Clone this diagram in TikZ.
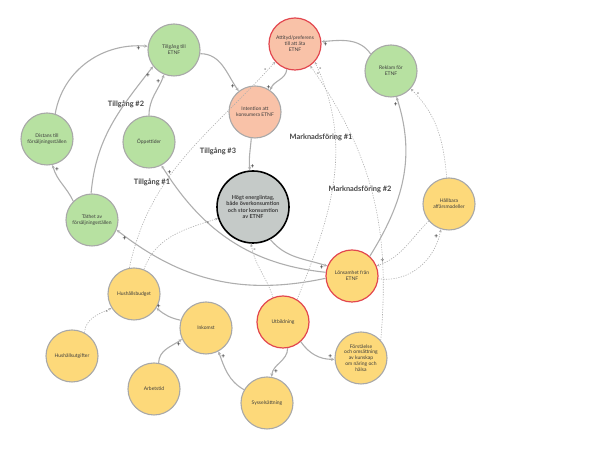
\documentclass[tikz,border=0pt]{standalone}
\usepackage{fontspec}
\setmainfont{Lato}
\usetikzlibrary{arrows.meta}
\definecolor{gfill}{HTML}{B7E1A1}
\definecolor{sfill}{HTML}{F9C2A8}
\definecolor{yfill}{HTML}{FDD97A}
\definecolor{hfill}{HTML}{C5CAC8}
\definecolor{bord}{HTML}{A8A8A8}
\definecolor{redborder}{HTML}{E2474F}
\definecolor{lcol}{HTML}{AEAEAE}
\definecolor{txt}{HTML}{3C3C3C}
\definecolor{ltxt}{HTML}{444444}
\begin{document}
\begin{tikzpicture}[x=1pt,y=1pt,
  base/.style={circle, minimum size=52pt, inner sep=0pt, align=center, font=\fontsize{5}{5.9}\selectfont, text=txt, line width=1.1pt, draw=bord},
  grn/.style={base, fill=gfill},
  sal/.style={base, fill=sfill},
  yel/.style={base, fill=yfill},
  redrim/.style={draw=redborder, line width=1.2pt},
  lnk/.style={draw=lcol, line width=1.1pt, -{Stealth[length=3.4pt,width=3.2pt]}},
  dlnk/.style={draw=lcol, line width=0.6pt, dash pattern=on 1.2pt off 1.3pt, -{Stealth[length=3pt,width=2.8pt]}},
  sgn/.style={font=\fontsize{6.5}{6.5}\selectfont\bfseries, text=txt, inner sep=0.6pt},
  lbl/.style={font=\fontsize{7.4}{8}\selectfont\bfseries, text=ltxt},
]
\path[use as bounding box] (0,0) rectangle (606,452);

% nodes
\node[grn] (till) at (174,{452-50}) {Tillgång till\\ETNF};
\node[sal, redrim] (att) at (295,{452-44}) {Attityd/preferens\\till att äta\\ETNF};
\node[grn] (rek) at (391,{452-71}) {Reklam för\\ETNF};
\node[sal] (int) at (255,{452-112}) {Intention att\\konsumera ETNF};
\node[grn] (dist) at (47,{452-139}) {Distans till\\försäljningsställen};
\node[grn] (opp) at (149,{452-142}) {Öppettider};
\node[grn] (tath) at (92,{452-220}) {Täthet av\\försäljningsställen};
\node[base, fill=hfill, draw=black, line width=1.6pt, minimum size=72pt, font=\fontsize{5.5}{6.4}\selectfont\bfseries] (hogt) at (253,{452-207}) {Högt energiintag,\\både överkonsumtion\\och stor konsumtion\\av ETNF};
\node[yel, redrim] (lon) at (352,{452-276}) {Lönsamhet från\\ETNF};
\node[yel] (hall) at (449,{452-204}) {Hållbara\\affärsmodeller};
\node[yel] (hbud) at (134,{452-294}) {Hushållsbudget};
\node[yel] (hutg) at (72,{452-356}) {Hushållsutgifter};
\node[yel] (arb) at (154,{452-389}) {Arbetstid};
\node[yel] (ink) at (206,{452-328}) {Inkomst};
\node[yel, redrim] (utb) at (283,{452-322}) {Utbildning};
\node[yel] (syss) at (267,{452-403}) {Sysselsättning};
\node[yel] (fors) at (361,{452-358}) {Förståelse\\och omsättning\\av kunskap\\om näring och\\hälsa};

% labels
\node[lbl] (l2) at (126,{452-104}) {Tillgång \#2};
\node[lbl] (l1) at (152,{452-182}) {Tillgång \#1};
\node[lbl] (l3) at (218,{452-151}) {Tillgång \#3};
\node[lbl] (m1) at (321,{452-137}) {Marknadsföring \#1};
\node[lbl] (m2) at (360,{452-189}) {Marknadsföring \#2};

% solid links
\draw[lnk] (dist.72) to[out=80,in=175] node[sgn,pos=0.93,below]{+} (till.172);
\draw[lnk] (tath.135) to[out=115,in=-75] node[sgn,pos=0.9,right]{+} (dist.-78);
\draw[lnk] (tath.92) to[out=85,in=232] node[sgn,pos=0.95,below]{+} (till.218);
\draw[lnk] (opp.90) to[out=90,in=250] node[sgn,pos=0.85,left]{+} (till.248);
\draw[lnk] (till.-8) to[out=0,in=125] node[sgn,pos=0.92,left]{+} (int.128);
\draw[lnk] (att.252) to[out=-95,in=70] node[sgn,pos=0.9,left]{+} (int.55);
\draw[lnk] (rek.140) to[out=125,in=5] node[sgn,pos=0.93,below]{+} (att.5);
\draw[lnk] (int.262) to[out=-95,in=95] node[sgn,pos=0.9,right]{+} (hogt.95);
\draw[lnk] (hogt.-62) to[out=-50,in=162] node[sgn,pos=0.92,below]{+} (lon.158);
\draw[lnk] (lon.48) to[out=58,in=-72] node[sgn,pos=0.96,left]{+} (rek.-78);
\draw[lnk] (lon.185) to[out=192,in=-38] node[sgn,pos=0.96,below]{+} (tath.-22);
\draw[lnk] (lon.172) to[out=174,in=-58] node[sgn,pos=0.96,right]{+} (opp.-62);
\draw[lnk] (ink.163) to[out=168,in=-40] node[sgn,pos=0.9,above]{+} (hbud.-32);
\draw[lnk] (arb.80) to[out=88,in=215] node[sgn,pos=0.9,below]{+} (ink.205);
\draw[lnk] (syss.150) to[out=150,in=-70] node[sgn,pos=0.9,right]{+} (ink.-62);
\draw[lnk] (utb.-80) to[out=-90,in=85] node[sgn,pos=0.85,right]{+} (syss.80);
\draw[lnk] (utb.-48) to[out=-55,in=180] node[sgn,pos=0.9,above]{+} (fors.183);

% dotted links
\draw[dlnk] (hall.95) to[out=95,in=-45] node[sgn,pos=0.93,right]{-} (rek.-42);
\draw[dlnk] (hall.-140) to[out=-135,in=20] node[sgn,pos=0.92,above]{+} (lon.22);
\draw[dlnk] (lon.-6) to[out=-8,in=-100] node[sgn,pos=0.92,left]{+} (hall.-108);
\draw[dlnk] (hbud.68) to[out=70,in=198] node[sgn,pos=0.9,below]{-} (hogt.198);
\draw[dlnk] (hbud.100) to[out=78,in=228] node[sgn,pos=0.96,left]{-} (att.222);
\draw[dlnk] (hutg.62) to[out=85,in=205] node[sgn,pos=0.88,below]{-} (hbud.212);
\draw[dlnk] (utb.112) to[out=108,in=-80] node[sgn,pos=0.9,right]{-} (hogt.-93);
\draw[dlnk] (utb.58) to[out=68,in=-65] node[sgn,pos=0.97,right]{-} (att.-42);
\draw[dlnk] (fors.42) to[out=85,in=-55] node[sgn,pos=0.97,right]{-} (att.-55);
\end{tikzpicture}
\end{document}
